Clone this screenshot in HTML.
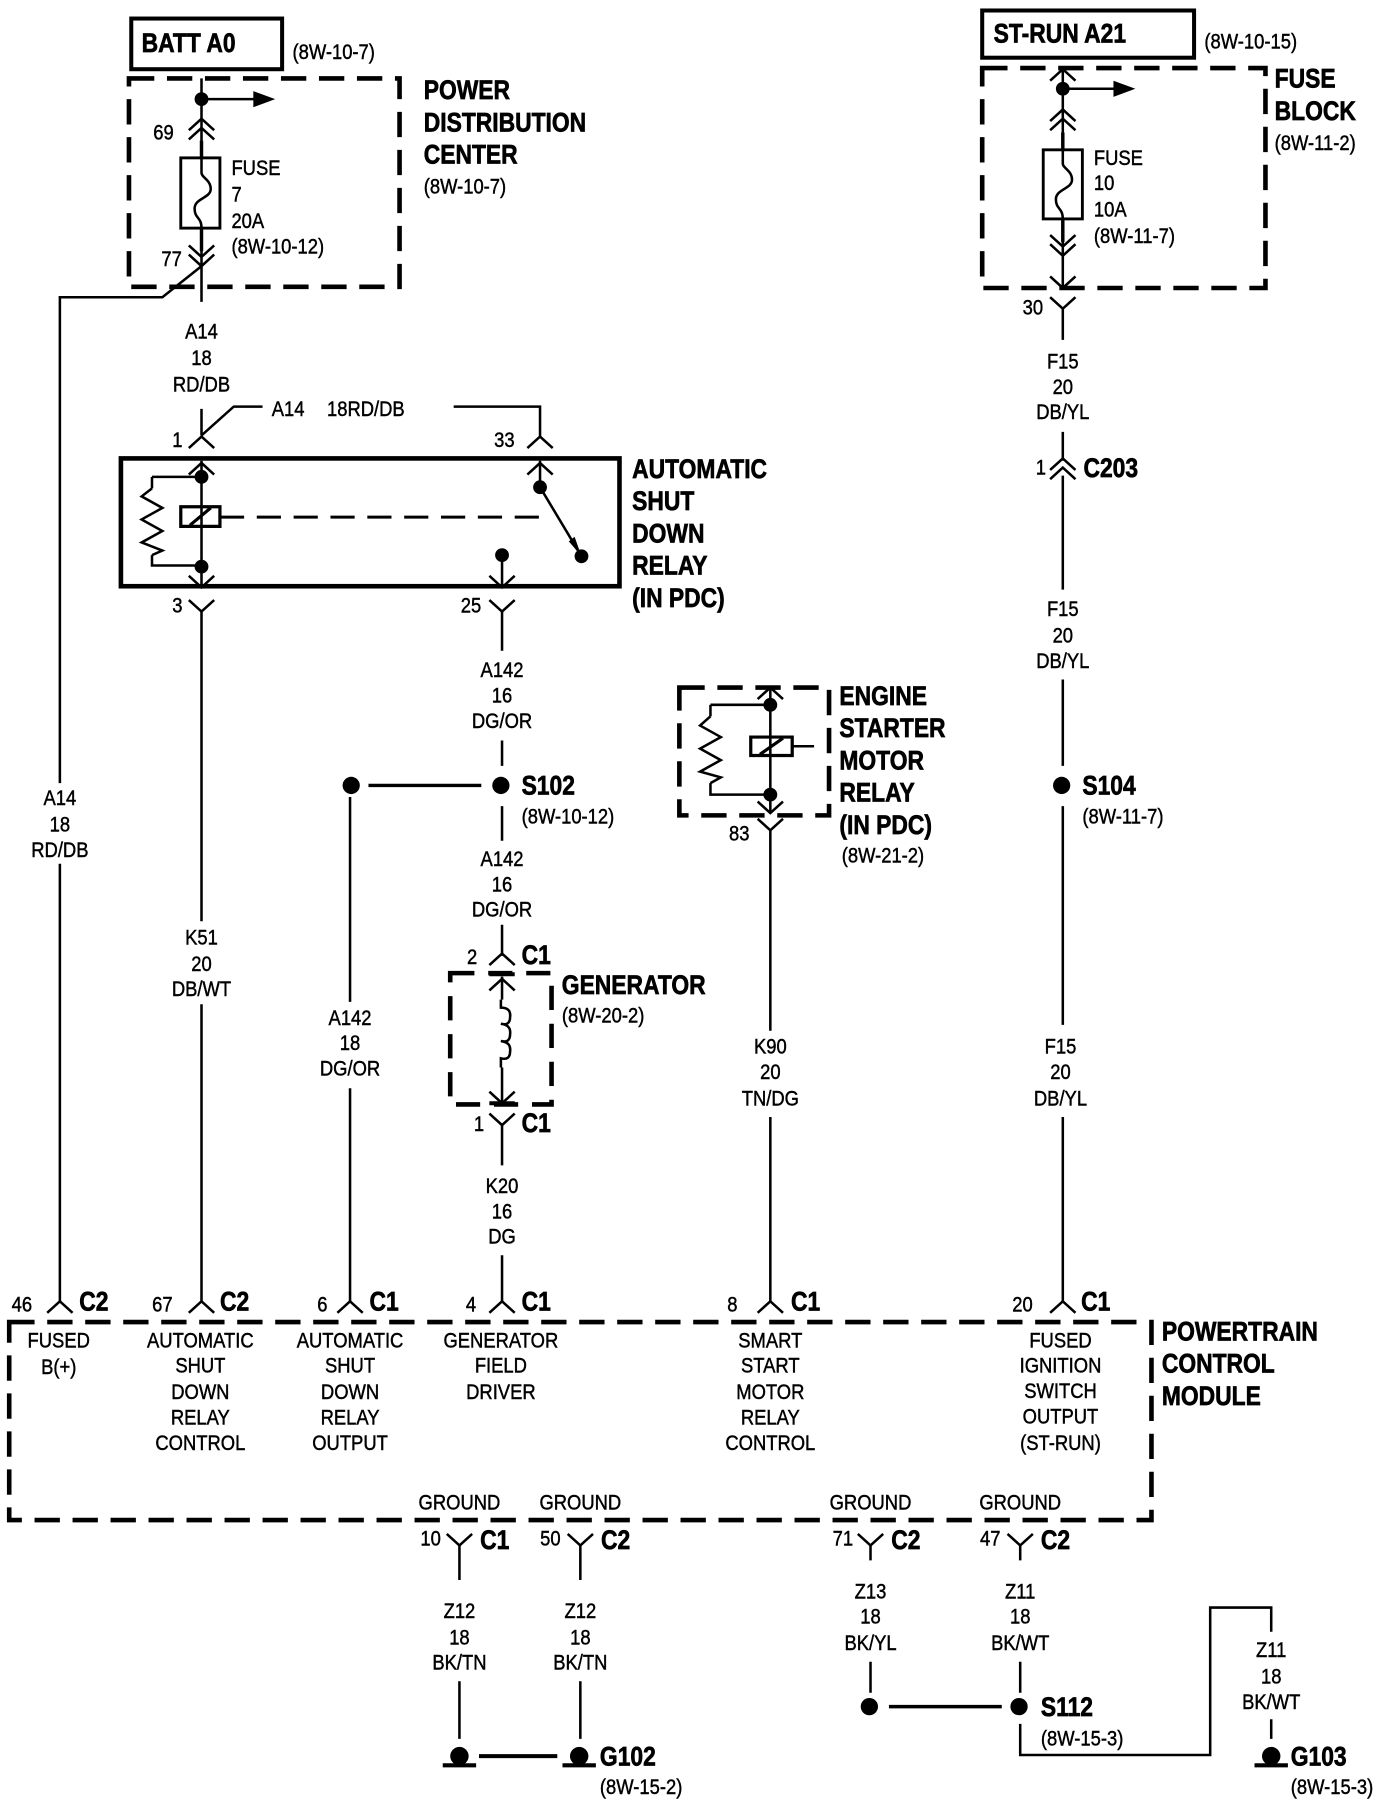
<!DOCTYPE html>
<html><head><meta charset="utf-8"><style>
html,body{margin:0;padding:0;background:#fff}
svg{display:block}
.w{fill:none;stroke:#000;stroke-width:2.2}
.d{fill:none;stroke:#000;stroke-width:4;stroke-dasharray:22 11}
text{fill:#000;font-family:"Liberation Sans",Arial,sans-serif}
.n text{font-size:18.5px;text-anchor:middle;stroke:#000;stroke-width:.4;transform-box:fill-box;transform-origin:50% 50%;transform:scaleX(1.08)}
.n text.s{text-anchor:start;transform-origin:0 50%}
.b text{font-size:23.5px;font-weight:bold;stroke:#000;stroke-width:.6;transform-box:fill-box;transform-origin:0 50%;transform:scaleX(1.03)}
</style></head><body>
<svg xmlns="http://www.w3.org/2000/svg" width="1376" height="1800" viewBox="0 0 1195 1563">
<defs>
<path id="u" d="M-11 10L0 0L11 10" fill="none" stroke="#000" stroke-width="2.200"/>
<path id="v" d="M-11 -10L0 0L11 -10" fill="none" stroke="#000" stroke-width="2.200"/>
<path id="g" d="M-14.500 8H14.500" stroke="#000" stroke-width="3.500"/>
</defs>
<rect width="1195" height="1563" fill="#fff"/>

<!-- boxes -->
<rect x="114" y="16" width="131" height="44" fill="none" stroke="#000" stroke-width="3.500"/>
<rect x="853" y="9" width="184" height="41" fill="none" stroke="#000" stroke-width="3.500"/>
<rect x="105" y="398" width="433" height="111" fill="none" stroke="#000" stroke-width="4"/>
<rect x="112" y="68" width="235" height="181" class="d"/>
<rect x="853" y="59" width="246" height="191" class="d"/>
<rect x="590" y="597" width="130" height="111" class="d"/>
<rect x="391" y="845" width="88" height="114" class="d" style="stroke-dasharray:21 12"/>
<rect x="8" y="1148" width="992" height="172" class="d"/>

<!-- wires -->
<path class="w" d="M175 68V137M175 86H222M175 198V262M175 355V378M175 378L203 353H228M394 353H469V380M175 400V510M175 531V800M175 872V1130"/>
<path d="M175 122V137M175 198V218M923 115V130M923 190V210" stroke="#000" stroke-width="3" fill="none"/>
<path class="w" d="M175 231L141 258H52V680M52 750V1130"/>
<path class="w" d="M132 414H175M132 414V424M132 482V491H175"/>
<path class="w" d="M132 424L123 431L141 441L123 451L141 461L123 471L141 478L132 482"/>
<path d="M157 440h34v17h-34zM165 456L183 441" fill="none" stroke="#000" stroke-width="2.800"/>
<path d="M191 449H475" fill="none" stroke="#000" stroke-width="2.600" stroke-dasharray="21 11"/>
<path class="w" d="M469 400V423L505 483M436 482V510M436 531V565M436 643V665M436 700V730M304 692V870M304 945V1130M436 803V830"/>
<path d="M320 682H418M772 1482H870" stroke="#000" stroke-width="3" fill="none"/>
<path class="w" d="M436 848V868M436 927V958M436 977V1012M436 1090V1130"/>
<path class="w" d="M435 868V875Q444 875 443 883Q443 891 435 889Q444 890 443 898Q443 906 435 904Q444 905 443 913Q443 921 435 919V927"/>
<path d="M425 846H447M425 958H447" stroke="#000" stroke-width="3.500"/>
<path class="w" d="M669 597V705M669 721V895M669 970V1130M617 612H669M617 612V622M617 680V690H669M688 648H707"/>
<path class="w" d="M617 622L608 630L626 640L608 650L626 660L608 670L626 675L617 680"/>
<path d="M652 640h36v16h-36zM660 655L680 641" fill="none" stroke="#000" stroke-width="2.800"/>
<path class="w" d="M923 60V130M923 77H970M923 190V250M923 268V295M923 375V400M923 413V512M923 590V665M923 700V890M923 970V1130"/>
<path class="w" d="M399 1342V1372M504 1342V1372M399 1460V1510M504 1460V1510M756 1342V1355M756 1443V1470M886 1342V1355M886 1443V1470"/>
<path class="w" d="M886 1497V1524H1051V1396H1104V1417M1104 1493V1510"/>
<path d="M416 1525H484" stroke="#000" stroke-width="3.500"/>

<!-- fuses -->
<rect x="157" y="137" width="34" height="61" fill="none" stroke="#000" stroke-width="2.500"/>
<path class="w" d="M175 137V150c0 4 8 6 8 14s-14 8-14 17 6 7 6 17"/>
<rect x="906" y="130" width="34" height="60" fill="none" stroke="#000" stroke-width="2.500"/>
<path class="w" d="M923 130V142c0 4 8 6 8 14s-14 8-14 17 6 7 6 17"/>

<!-- arrows -->
<path d="M220 79L239 86L220 93Z M967 70L986 77L967 84Z"/>
<path d="M505 483L494 470L499 466Z"/>

<!-- dots -->
<g>
<circle cx="175" cy="86" r="6"/><circle cx="175" cy="414" r="6"/><circle cx="175" cy="492" r="6"/>
<circle cx="469" cy="423" r="6"/><circle cx="505" cy="483" r="6"/><circle cx="436" cy="482" r="6"/>
<circle cx="305" cy="682" r="7.500"/><circle cx="435" cy="682" r="7.500"/>
<circle cx="669" cy="612" r="6"/><circle cx="669" cy="690" r="6"/>
<circle cx="923" cy="77" r="6"/><circle cx="922" cy="682" r="7.500"/>
<circle cx="755" cy="1482" r="7.500"/><circle cx="885" cy="1482" r="7.500"/>
<circle cx="399" cy="1525" r="8"/><circle cx="503" cy="1525" r="8"/><circle cx="1104" cy="1525" r="8"/>
</g>
<use href="#g" x="399" y="1525"/><use href="#g" x="503" y="1525"/><use href="#g" x="1104" y="1525"/>

<!-- chevrons -->
<use href="#u" x="175" y="103"/><use href="#u" x="175" y="111"/>
<use href="#v" x="175" y="223"/><use href="#v" x="175" y="231"/>
<use href="#u" x="175" y="379"/><use href="#u" x="469" y="379"/>
<use href="#u" x="175" y="402"/><use href="#u" x="469" y="402"/>
<use href="#v" x="175" y="510"/><use href="#v" x="436" y="510"/>
<use href="#v" x="175" y="531"/><use href="#v" x="436" y="531"/>
<use href="#u" x="436" y="828"/><use href="#u" x="436" y="850"/>
<use href="#v" x="436" y="958"/><use href="#v" x="436" y="977"/>
<use href="#u" x="669" y="597"/><use href="#v" x="669" y="706"/><use href="#v" x="669" y="721"/>
<use href="#u" x="923" y="60"/><use href="#u" x="923" y="95"/><use href="#u" x="923" y="103"/>
<use href="#v" x="923" y="214"/><use href="#v" x="923" y="222"/><use href="#v" x="923" y="250"/>
<use href="#v" x="923" y="268"/><use href="#u" x="923" y="398"/><use href="#u" x="923" y="406"/>
<use href="#u" x="52" y="1130"/><use href="#u" x="175" y="1130"/><use href="#u" x="304" y="1130"/>
<use href="#u" x="436" y="1130"/><use href="#u" x="669" y="1130"/><use href="#u" x="923" y="1130"/>
<use href="#v" x="399" y="1342"/><use href="#v" x="504" y="1342"/><use href="#v" x="756" y="1342"/><use href="#v" x="886" y="1342"/>

<!-- normal text -->
<g class="n" transform="scale(.8 1)">
<text class="s" x="317.500" y="51">(8W-10-7)</text>
<text class="s" x="1307.500" y="42">(8W-10-15)</text>
<text class="s" x="460" y="168">(8W-10-7)</text>
<text class="s" x="1383.750" y="130">(8W-11-2)</text>
<text x="177.500" y="121">69</text><text x="186.250" y="231">77</text>
<text class="s" x="251.250" y="152">FUSE</text><text class="s" x="251.250" y="175">7</text><text class="s" x="251.250" y="198">20A</text><text class="s" x="251.250" y="220">(8W-10-12)</text>
<text class="s" x="1187.500" y="143">FUSE</text><text class="s" x="1187.500" y="165">10</text><text class="s" x="1187.500" y="188">10A</text><text class="s" x="1187.500" y="211">(8W-11-7)</text>
<text x="218.750" y="294">A14</text><text x="218.750" y="317">18</text><text x="218.750" y="340">RD/DB</text>
<text class="s" x="295" y="361">A14</text><text class="s" x="355" y="361">18RD/DB</text>
<text x="192.500" y="388">1</text><text x="547.500" y="388">33</text>
<text x="192.500" y="532">3</text><text x="511.250" y="532">25</text>
<text x="1121.250" y="273">30</text>
<text x="1153.750" y="320">F15</text><text x="1153.750" y="342">20</text><text x="1153.750" y="364">DB/YL</text>
<text x="1130" y="412">1</text>
<text x="1153.750" y="535">F15</text><text x="1153.750" y="558">20</text><text x="1153.750" y="580">DB/YL</text>
<text x="545" y="588">A142</text><text x="545" y="610">16</text><text x="545" y="632">DG/OR</text>
<text class="s" x="566.250" y="715">(8W-10-12)</text>
<text x="545" y="752">A142</text><text x="545" y="774">16</text><text x="545" y="796">DG/OR</text>
<text x="512.500" y="837">2</text>
<text class="s" x="610" y="888">(8W-20-2)</text>
<text x="520" y="982">1</text>
<text x="545" y="1036">K20</text><text x="545" y="1058">16</text><text x="545" y="1080">DG</text>
<text x="65" y="699">A14</text><text x="65" y="722">18</text><text x="65" y="744">RD/DB</text>
<text x="218.750" y="820">K51</text><text x="218.750" y="843">20</text><text x="218.750" y="865">DB/WT</text>
<text x="380" y="890">A142</text><text x="380" y="912">18</text><text x="380" y="934">DG/OR</text>
<text x="802.500" y="730">83</text>
<text class="s" x="913.750" y="749">(8W-21-2)</text>
<text x="836.250" y="915">K90</text><text x="836.250" y="937">20</text><text x="836.250" y="960">TN/DG</text>
<text class="s" x="1175" y="715">(8W-11-7)</text>
<text x="1151.250" y="915">F15</text><text x="1151.250" y="937">20</text><text x="1151.250" y="960">DB/YL</text>
<text x="23.750" y="1139">46</text><text x="176.250" y="1139">67</text><text x="350" y="1139">6</text><text x="511.250" y="1139">4</text><text x="795" y="1139">8</text><text x="1110" y="1139">20</text>
<text x="63.750" y="1170">FUSED</text><text x="63.750" y="1193">B(+)</text>
<text x="217.500" y="1170">AUTOMATIC</text><text x="217.500" y="1192">SHUT</text><text x="217.500" y="1215">DOWN</text><text x="217.500" y="1237">RELAY</text><text x="217.500" y="1259">CONTROL</text>
<text x="380" y="1170">AUTOMATIC</text><text x="380" y="1192">SHUT</text><text x="380" y="1215">DOWN</text><text x="380" y="1237">RELAY</text><text x="380" y="1259">OUTPUT</text>
<text x="543.750" y="1170">GENERATOR</text><text x="543.750" y="1192">FIELD</text><text x="543.750" y="1215">DRIVER</text>
<text x="836.250" y="1170">SMART</text><text x="836.250" y="1192">START</text><text x="836.250" y="1215">MOTOR</text><text x="836.250" y="1237">RELAY</text><text x="836.250" y="1259">CONTROL</text>
<text x="1151.250" y="1170">FUSED</text><text x="1151.250" y="1192">IGNITION</text><text x="1151.250" y="1214">SWITCH</text><text x="1151.250" y="1236">OUTPUT</text><text x="1151.250" y="1259">(ST-RUN)</text>
<text x="498.750" y="1311">GROUND</text><text x="630" y="1311">GROUND</text><text x="945" y="1311">GROUND</text><text x="1107.500" y="1311">GROUND</text>
<text x="467.500" y="1342">10</text><text x="597.500" y="1342">50</text><text x="915" y="1342">71</text><text x="1075" y="1342">47</text>
<text x="498.750" y="1405">Z12</text><text x="498.750" y="1428">18</text><text x="498.750" y="1450">BK/TN</text>
<text x="630" y="1405">Z12</text><text x="630" y="1428">18</text><text x="630" y="1450">BK/TN</text>
<text x="945" y="1388">Z13</text><text x="945" y="1410">18</text><text x="945" y="1433">BK/YL</text>
<text x="1107.500" y="1388">Z11</text><text x="1107.500" y="1410">18</text><text x="1107.500" y="1433">BK/WT</text>
<text x="1380" y="1439">Z11</text><text x="1380" y="1462">18</text><text x="1380" y="1484">BK/WT</text>
<text class="s" x="1130" y="1516">(8W-15-3)</text>
<text class="s" x="651.250" y="1558">(8W-15-2)</text>
<text class="s" x="1401.250" y="1558">(8W-15-3)</text>
</g>

<!-- bold text -->
<g class="b" transform="scale(.82 1)">
<text x="150" y="45">BATT A0</text>
<text x="1052.400" y="37">ST-RUN A21</text>
<text x="448.800" y="86">POWER</text><text x="448.800" y="114">DISTRIBUTION</text><text x="448.800" y="142">CENTER</text>
<text x="1350" y="76">FUSE</text><text x="1350" y="104">BLOCK</text>
<text x="669.500" y="415">AUTOMATIC</text><text x="669.500" y="443">SHUT</text><text x="669.500" y="471">DOWN</text><text x="669.500" y="499">RELAY</text><text x="669.500" y="527">(IN PDC)</text>
<text x="889" y="612">ENGINE</text><text x="889" y="640">STARTER</text><text x="889" y="668">MOTOR</text><text x="889" y="696">RELAY</text><text x="889" y="724">(IN PDC)</text>
<text x="595" y="863">GENERATOR</text>
<text x="552.400" y="690">S102</text>
<text x="1146.300" y="690">S104</text>
<text x="1147.500" y="414">C203</text>
<text x="552.400" y="837">C1</text><text x="552.400" y="983">C1</text>
<text x="84" y="1138">C2</text><text x="233" y="1138">C2</text><text x="391.400" y="1138">C1</text><text x="552.400" y="1138">C1</text><text x="837.800" y="1138">C1</text><text x="1145" y="1138">C1</text>
<text x="1230.500" y="1164">POWERTRAIN</text><text x="1230.500" y="1192">CONTROL</text><text x="1230.500" y="1220">MODULE</text>
<text x="508.500" y="1345">C1</text><text x="636.500" y="1345">C2</text><text x="943.900" y="1345">C2</text><text x="1102.400" y="1345">C2</text>
<text x="1102.400" y="1490">S112</text>
<text x="635.400" y="1533">G102</text>
<text x="1367" y="1533">G103</text>
</g>
</svg>
</body></html>
